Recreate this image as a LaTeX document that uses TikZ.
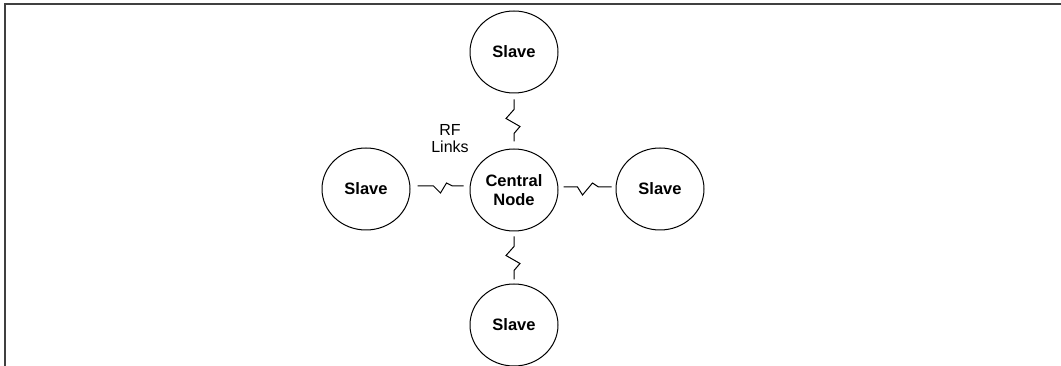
\documentclass[tikz,border=0pt]{standalone}
\usepackage{fontspec}
\setmainfont{Liberation Sans}
\usetikzlibrary{shapes.geometric,calc}
\tikzset{
  unit/.style={ellipse, draw, line width=1pt, minimum width=88pt, minimum height=82pt, inner sep=0pt, align=center, font=\fontsize{16.5}{18.5}\selectfont\bfseries},
  rflink/.style={line width=1pt, line join=miter},
  frame/.style={line width=1.6pt, draw=black!75}
}
\begin{document}
\begin{tikzpicture}[x=1pt,y=-1pt]
\useasboundingbox (0,0) rectangle (1061,366);
\coordinate (fa) at (1061,4);
\coordinate (fb) at (5,4);
\coordinate (fc) at (5,366);
\draw[frame] (fa) -- (fb) -- (fc);

\node[unit] (c) at (514,190) {Central\\Node};
\node[unit] (top) at (514,52) {Slave};
\node[unit] (bot) at (514,325) {Slave};
\node[unit] (left) at (366,189) {Slave};
\node[unit] (right) at (660,189) {Slave};

\node[align=center, font=\fontsize{16}{17}\selectfont] (lbl) at (450,139) {RF\\Links};

% top link
\draw[rflink] ($(top.south)+(0,6)$) -- ++(0,10) -- ++(-8,9) -- ++(14,8) -- ++(-6,7) -- ($(c.north)+(0,-7)$);
% bottom link
\draw[rflink] ($(c.south)+(0,5)$) -- ++(0,10) -- ++(-8,9) -- ++(14,8) -- ++(-6,7) -- ($(bot.north)+(0,-4)$);
% left link
\draw[rflink] ($(left.east)+(7,-3)$) -- ++(16,0) -- ++(7,7) -- ++(6,-10) -- ++(6,3) -- ($(c.west)+(-6,-4)$);
% right link
\draw[rflink] ($(c.east)+(5,-3)$) -- ++(14,0) -- ++(5,8) -- ++(10,-12) -- ++(6,4) -- ($(right.west)+(-4,-2)$);
\end{tikzpicture}
\end{document}
